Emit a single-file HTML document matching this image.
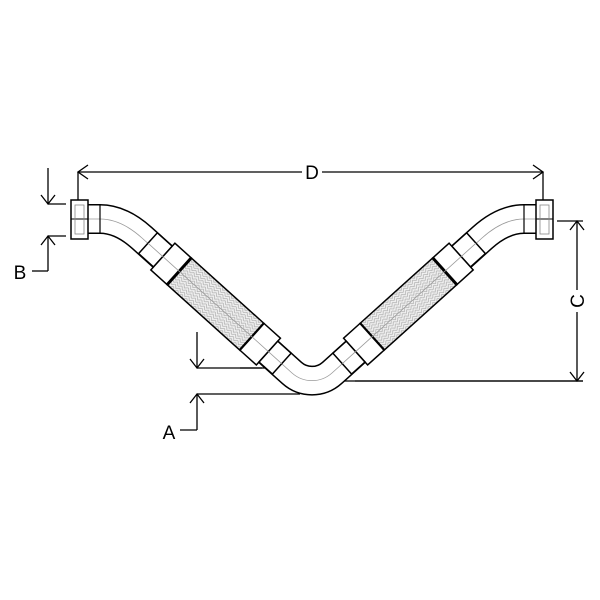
<!DOCTYPE html>
<html><head><meta charset="utf-8"><style>
html,body{margin:0;padding:0;background:#fff;}
svg{display:block;font-family:"Liberation Sans",sans-serif;}
</style></head><body>
<svg width="600" height="600" viewBox="0 0 600 600" xmlns="http://www.w3.org/2000/svg">
<defs>
<pattern id="braid" width="6" height="6" patternUnits="userSpaceOnUse">
<rect width="6" height="6" fill="#f0f0f0"/>
<path d="M0,0 L3,3 L6,0 M0,3 L3,6 L6,3" stroke="#aaa" stroke-width="0.7" fill="none"/>
</pattern>
<g id="half">
<g transform="translate(148,243.2) rotate(42)">
<rect x="0" y="-14" width="20" height="28" fill="#fff" stroke="#000" stroke-width="1.5"/>
<rect x="20" y="-18" width="22" height="36" fill="#fff" stroke="#000" stroke-width="1.5"/>
<rect x="42" y="-18" width="98" height="36" fill="url(#braid)" stroke="#000" stroke-width="1.5"/>
<line x1="42" y1="-18" x2="42" y2="18" stroke="#000" stroke-width="3"/>
<line x1="140" y1="-18" x2="140" y2="18" stroke="#000" stroke-width="3"/>
<rect x="140" y="-18" width="22" height="36" fill="#fff" stroke="#000" stroke-width="1.5"/>
<rect x="162" y="-14" width="18" height="28" fill="#fff" stroke="#000" stroke-width="1.5"/>
<line x1="0" y1="0" x2="180" y2="0" stroke="#999" stroke-width="0.8"/>
</g>
<rect x="71" y="200" width="17" height="39" fill="#fff" stroke="#000" stroke-width="1.5"/>
<line x1="71" y1="219" x2="88" y2="219" stroke="#000" stroke-width="1"/>
<rect x="75" y="205" width="9" height="29" fill="none" stroke="#888" stroke-width="0.8"/>
<line x1="100" y1="205" x2="100" y2="233" stroke="#000" stroke-width="1.2"/>
</g>
</defs>
<g stroke="#000" stroke-width="1.3" fill="none">
<line x1="197" y1="368" x2="300" y2="368"/>
<line x1="330" y1="381" x2="583" y2="381"/>
</g>
<path d="M88,219 H100 Q121,219 142,238 L292,373 A30,30 0 0 0 332,373 L482,238 Q503,219 524,219 H536" fill="none" stroke="#000" stroke-width="30"/>
<path d="M88,219 H100 Q121,219 142,238 L292,373 A30,30 0 0 0 332,373 L482,238 Q503,219 524,219 H536" fill="none" stroke="#fff" stroke-width="27"/>
<path d="M88,219 H100 Q121,219 142,238 L292,373 A30,30 0 0 0 332,373 L482,238 Q503,219 524,219 H536" fill="none" stroke="#999" stroke-width="0.8"/>
<use href="#half"/>
<use href="#half" transform="translate(624,0) scale(-1,1)"/>
<g stroke="#000" stroke-width="1.3" fill="none">
<line x1="240" y1="368" x2="262" y2="368"/>
<line x1="355" y1="381" x2="583" y2="381"/>
<!-- D -->
<line x1="78" y1="172" x2="543" y2="172"/>
<line x1="78" y1="172" x2="78" y2="200"/>
<line x1="543" y1="172" x2="543" y2="200"/>
<path d="M88,165 L78,172 L88,179 M533,165 L543,172 L533,179"/>
<!-- B -->
<line x1="48" y1="168" x2="48" y2="204"/>
<line x1="48" y1="204" x2="66" y2="204"/>
<path d="M41,195 L48,204 L55,195"/>
<line x1="48" y1="236" x2="48" y2="271"/>
<line x1="48" y1="236" x2="66" y2="236"/>
<path d="M41,245 L48,236 L55,245"/>
<line x1="48" y1="271" x2="32" y2="271"/>
<!-- C -->
<line x1="577" y1="221" x2="577" y2="381"/>
<line x1="557" y1="221" x2="583" y2="221"/>
<path d="M570,230 L577,221 L584,230 M570,372 L577,381 L584,372"/>
<!-- A -->
<line x1="197" y1="332" x2="197" y2="368"/>
<path d="M190,359 L197,368 L204,359"/>
<line x1="197" y1="394" x2="300" y2="394"/>
<line x1="197" y1="394" x2="197" y2="430"/>
<path d="M190,403 L197,394 L204,403"/>
<line x1="197" y1="430" x2="180" y2="430"/>
</g>
<rect x="302" y="162" width="20" height="20" fill="#fff"/>
<text x="312" y="179" font-size="19" text-anchor="middle">D</text>
<text x="20" y="279" font-size="19" text-anchor="middle">B</text>
<text x="169" y="439" font-size="19" text-anchor="middle">A</text>
<rect x="567" y="290" width="20" height="22" fill="#fff"/>
<text x="577" y="301" font-size="19" text-anchor="middle" transform="rotate(-90 577 301)" dy="7">C</text>
</svg>
</body></html>
